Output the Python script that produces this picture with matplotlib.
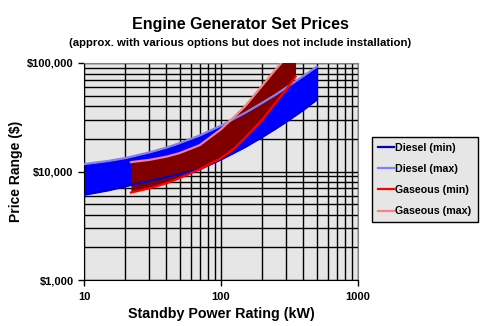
import numpy as np
import matplotlib.pyplot as plt
from matplotlib.ticker import FixedLocator, NullFormatter

plt.rcParams['font.family'] = ['Liberation Sans', 'DejaVu Sans']
plt.rcParams['font.weight'] = 'bold'

# Diesel sets (kW, $)
diesel_kw = [10, 15, 20, 30, 40, 50, 70, 100, 150, 200, 250, 300, 400, 500]
diesel_min = [6100, 6700, 7300, 8200, 8900, 9500, 10500, 12900, 16800, 20800,
              24800, 28800, 37000, 46000]
diesel_max = [11700, 12500, 13300, 15000, 16600, 18300, 21500, 26500, 34700,
              43000, 51000, 59500, 76000, 92500]

# Gaseous sets (kW, $)
gas_kw = [22, 30, 40, 50, 70, 100, 125, 150, 200, 250, 300, 350]
gas_min = [6400, 7000, 7800, 8700, 10500, 13300, 16300, 20500, 30000, 43000,
           57000, 75000]
gas_max = [12200, 12800, 13700, 14800, 17500, 24500, 32000, 40000, 62000,
           87000, 113000, 140000]

bg = '#E6E6E6'

fig = plt.figure(figsize=(4.81, 3.26), dpi=100)
ax = fig.add_axes([84/481, 46/326, 274/481, 217/326])
ax.set_facecolor(bg)

ax.fill_between(diesel_kw, diesel_min, diesel_max, color='#0000FF', lw=0, zorder=2)
ax.fill_between(gas_kw, gas_min, gas_max, color='#800000', lw=0, zorder=3)

l1, = ax.plot(diesel_kw, diesel_min, color='#0000C0', lw=1.6, zorder=4, label='Diesel (min)')
l2, = ax.plot(diesel_kw, diesel_max, color='#8080FF', lw=1.6, zorder=4, label='Diesel (max)')
l3, = ax.plot(gas_kw, gas_min, color='#FF0000', lw=1.6, zorder=5, label='Gaseous (min)')
l4, = ax.plot(gas_kw, gas_max, color='#FF8080', lw=1.6, zorder=5, label='Gaseous (max)')

ax.set_xscale('log')
ax.set_yscale('log')
ax.set_xlim(10, 1000)
ax.set_ylim(1000, 100000)

ax.set_xticks([10, 100, 1000])
ax.set_xticklabels(['10', '100', '1000'])
ax.set_yticks([1000, 10000, 100000])
ax.set_yticklabels(['$1,000', '$10,000', '$100,000'])
ax.xaxis.set_minor_locator(FixedLocator([k * d for d in (10, 100) for k in range(2, 10)]))
ax.yaxis.set_minor_locator(FixedLocator([k * d for d in (1000, 10000) for k in range(2, 10)]))
ax.xaxis.set_minor_formatter(NullFormatter())
ax.yaxis.set_minor_formatter(NullFormatter())
ax.tick_params(which='major', direction='out', length=4, width=1, color='black', labelsize=8)
ax.tick_params(axis='x', which='major', pad=5)
ax.tick_params(which='minor', length=0)
ax.grid(True, which='both', color='black', lw=1)
ax.set_axisbelow(True)

for s in ('top', 'right'):
    ax.spines[s].set_color('#808080')
for s in ('left', 'bottom'):
    ax.spines[s].set_color('black')

ax.set_xlabel('Standby Power Rating (kW)', fontsize=10.3, fontweight='bold', labelpad=3)
ax.set_ylabel('Price Range ($)', fontsize=10, fontweight='bold', labelpad=3)

fig.text(0.5, 1 - 24/326, 'Engine Generator Set Prices', ha='center', va='center',
         fontsize=11.5, fontweight='bold')
fig.text(0.5, 1 - 43/326, '(approx. with various options but does not include installation)',
         ha='center', va='center', fontsize=8.2, fontweight='bold')

leg = fig.legend(handles=[l1, l2, l3, l4], loc='center',
                 bbox_to_anchor=(372/481, 1 - 223/326, 106/481, 87/326),
                 mode='expand', fontsize=7.7, frameon=True, fancybox=False,
                 handlelength=1.5, handletextpad=0.1, labelspacing=1.05,
                 borderpad=0.55, borderaxespad=0)
leg.get_frame().set_facecolor(bg)
leg.get_frame().set_edgecolor('black')
leg.get_frame().set_linewidth(1)
leg.get_frame().set_alpha(1)

fig.savefig('out.png', dpi=100)
